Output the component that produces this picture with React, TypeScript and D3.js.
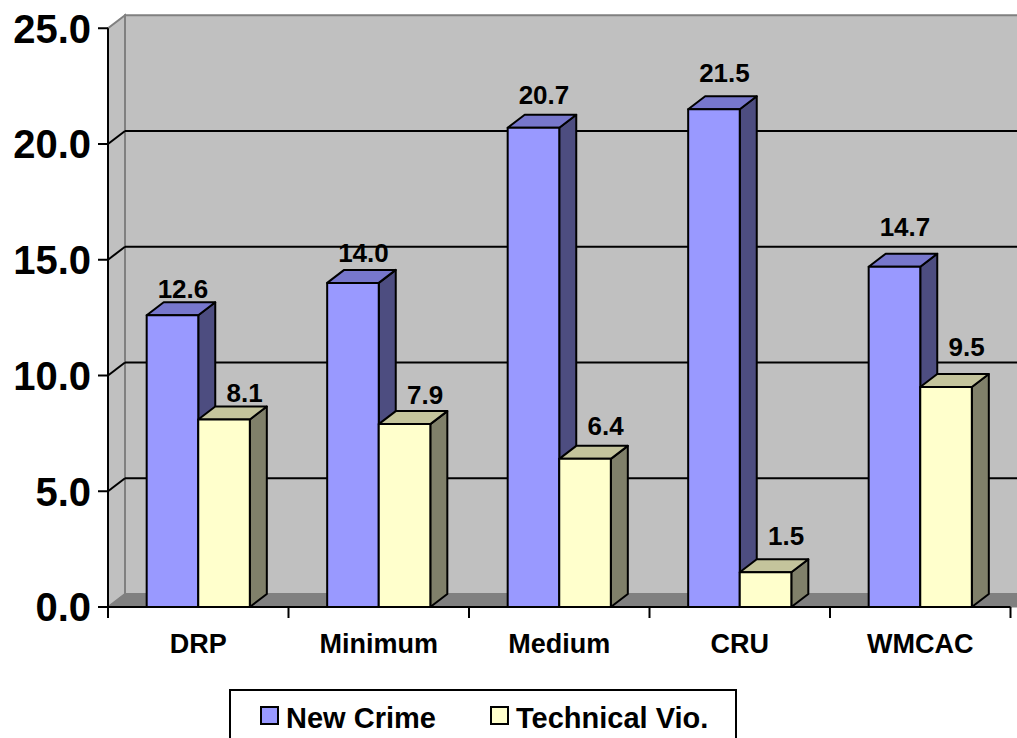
import React from "react";
import * as d3 from "d3";

// Data
const categories = ["DRP", "Minimum", "Medium", "CRU", "WMCAC"];
const seriesNames = ["New Crime", "Technical Vio."];
const newCrime = [12.6, 14.0, 20.7, 21.5, 14.7];
const technicalVio = [8.1, 7.9, 6.4, 1.5, 9.5];
const yTicks = [0, 5, 10, 15, 20, 25];

// Styling
const FONT = "'Liberation Sans', Arial, Helvetica, sans-serif";
const faces = [
  { front: "#9999ff", top: "#7777cc", side: "#4d4d80" },
  { front: "#ffffcc", top: "#c4c49c", side: "#80806a" },
];
const WALL = "#c0c0c0";
const WALL_EDGE = "#808080";
const FLOOR = "#808080";

// 3D depth offset of the plot box
const DX = 17;
const DY = -13;

const W = 1017;
const H = 738;
const left = 108;
const right = 1010.5;
const bottom = 607;
const top = 28.25;

export default function App() {
  const y = d3.scaleLinear().domain([0, 25]).range([bottom, top]);
  const x = d3.scaleBand<string>().domain(categories).range([left, right]).paddingInner(0).paddingOuter(0);
  const xs = d3
    .scaleBand<string>()
    .domain(seriesNames)
    .range([0, x.bandwidth()])
    .paddingInner(0)
    .paddingOuter(0.75);

  const values = [newCrime, technicalVio];
  const y0 = y(0);

  const bars: React.ReactNode[] = [];
  const labels: React.ReactNode[] = [];
  categories.forEach((c, i) => {
    seriesNames.forEach((s, k) => {
      const v = values[k][i];
      const bx = (x(c) ?? 0) + (xs(s) ?? 0);
      const bw = xs.bandwidth();
      const yv = y(v);
      const col = faces[k];
      const topPts = [
        [bx, yv],
        [bx + DX, yv + DY],
        [bx + bw + DX, yv + DY],
        [bx + bw, yv],
      ];
      const sidePts = [
        [bx + bw, yv],
        [bx + bw + DX, yv + DY],
        [bx + bw + DX, y0 + DY],
        [bx + bw, y0],
      ];
      bars.push(
        <g key={`${c}-${s}`} stroke="#000" strokeWidth={2} strokeLinejoin="round">
          <polygon points={sidePts.map((p) => p.join(",")).join(" ")} fill={col.side} />
          <polygon points={topPts.map((p) => p.join(",")).join(" ")} fill={col.top} />
          <rect x={bx} y={yv} width={bw} height={y0 - yv} fill={col.front} />
        </g>
      );
      const lx = bx + bw / 2 + DX / 2 + (k === 1 ? 12 : 2);
      const ly = yv + DY - (4 + 3.5 * i);
      labels.push(
        <text
          key={`l-${c}-${s}`}
          x={lx}
          y={ly}
          textAnchor="middle"
          fontFamily={FONT}
          fontWeight="bold"
          fontSize={26}
          fill="#000"
        >
          {v.toFixed(1)}
        </text>
      );
    });
  });

  const wallRight = right + DX + 30;

  return (
    <svg
      width={W}
      height={H}
      viewBox={`0 0 ${W} ${H}`}
      style={{ position: "absolute", left: 0, top: 0, background: "#fff" }}
    >
      {/* back wall */}
      <rect
        x={left + DX}
        y={y(25) + DY}
        width={wallRight - (left + DX)}
        height={y0 - y(25)}
        fill={WALL}
        stroke={WALL_EDGE}
        strokeWidth={2}
      />
      {/* side wall */}
      <polygon
        points={[
          [left, y0],
          [left, y(25)],
          [left + DX, y(25) + DY],
          [left + DX, y0 + DY],
        ]
          .map((p) => p.join(","))
          .join(" ")}
        fill={WALL}
        stroke={WALL_EDGE}
        strokeWidth={2}
      />
      {/* floor */}
      <polygon
        points={[
          [left, y0],
          [left + DX, y0 + DY],
          [wallRight, y0 + DY],
          [wallRight, y0],
        ]
          .map((p) => p.join(","))
          .join(" ")}
        fill={FLOOR}
        stroke={WALL_EDGE}
        strokeWidth={1}
      />
      {/* gridlines */}
      {yTicks
        .filter((t) => t > 0 && t < 25)
        .map((t) => (
          <g key={`g-${t}`} stroke="#000" strokeWidth={2}>
            <line x1={left} y1={y(t)} x2={left + DX} y2={y(t) + DY} />
            <line x1={left + DX} y1={y(t) + DY} x2={wallRight} y2={y(t) + DY} />
          </g>
        ))}

      {bars}

      {/* value axis */}
      <line x1={left} y1={y(25)} x2={left} y2={y0} stroke="#000" strokeWidth={2} />
      {yTicks.map((t) => (
        <g key={`yt-${t}`}>
          <line x1={left - 10} y1={y(t)} x2={left} y2={y(t)} stroke="#000" strokeWidth={2} />
          <text
            x={left - 17}
            y={y(t)}
            dy="0.36em"
            textAnchor="end"
            fontFamily={FONT}
            fontWeight="bold"
            fontSize={40}
            fill="#000"
          >
            {t.toFixed(1)}
          </text>
        </g>
      ))}

      {/* category axis */}
      <line x1={left} y1={y0} x2={right} y2={y0} stroke="#000" strokeWidth={2} />
      {[...categories.map((c) => x(c) ?? 0), right].map((tx, i) => (
        <line key={`xt-${i}`} x1={tx} y1={y0} x2={tx} y2={y0 + 11} stroke="#000" strokeWidth={2} />
      ))}
      {categories.map((c) => (
        <text
          key={`xl-${c}`}
          x={(x(c) ?? 0) + x.bandwidth() / 2}
          y={653}
          textAnchor="middle"
          fontFamily={FONT}
          fontWeight="bold"
          fontSize={27}
          fill="#000"
        >
          {c}
        </text>
      ))}

      {labels}

      {/* legend */}
      <rect x={230} y={690} width={506} height={70} fill="#fff" stroke="#000" strokeWidth={2} />
      {seriesNames.map((s, k) => {
        const lx = k === 0 ? 261 : 491;
        return (
          <g key={`lg-${s}`}>
            <rect x={lx} y={707} width={17} height={17} fill={faces[k].front} stroke="#000" strokeWidth={2} />
            <text
              x={lx + 25}
              y={728}
              fontFamily={FONT}
              fontWeight="bold"
              fontSize={29}
              fill="#000"
            >
              {s}
            </text>
          </g>
        );
      })}
    </svg>
  );
}
